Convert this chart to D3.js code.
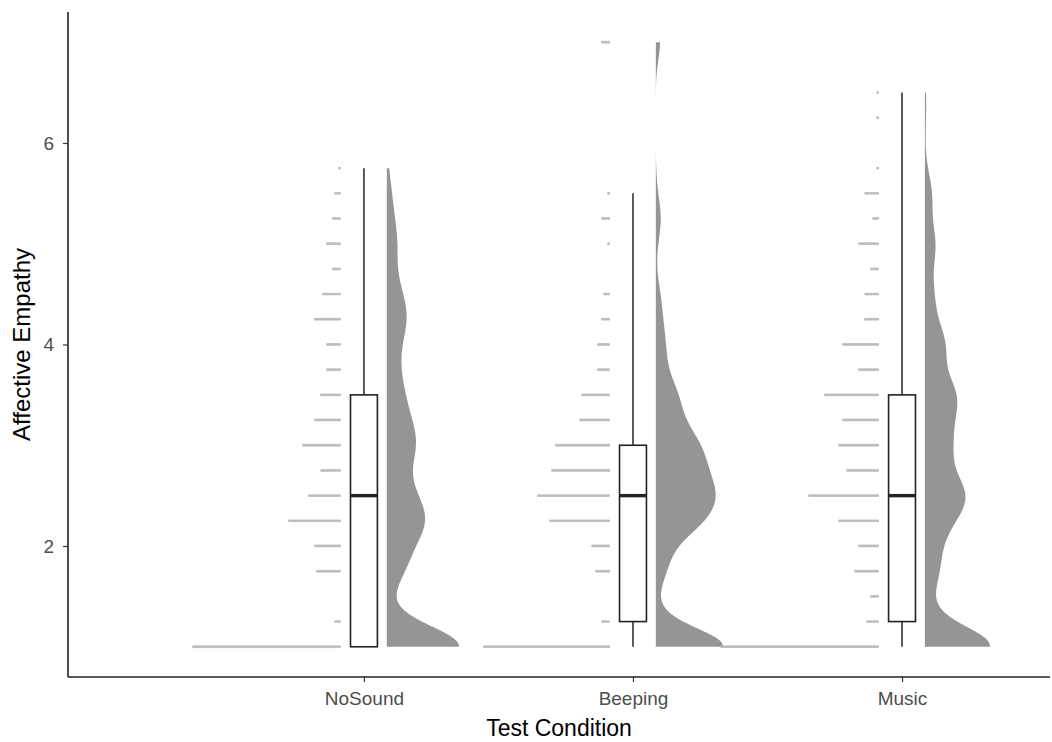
<!DOCTYPE html>
<html>
<head>
<meta charset="utf-8">
<script src="https://cdn.jsdelivr.net/npm/d3@7"></script>
<style>
  html, body { margin: 0; padding: 0; background: #ffffff; }
  svg { display: block; }
</style>
</head>
<body>
<svg id="chart" width="1052" height="742"></svg>
<script>
// ---------------- data ----------------
const categories = ["NoSound", "Beeping", "Music"];
const scoreLevels = [1.00, 1.25, 1.50, 1.75, 2.00, 2.25, 2.50, 2.75, 3.00, 3.25, 3.50, 3.75, 4.00,
                     4.25, 4.50, 4.75, 5.00, 5.25, 5.50, 5.75, 6.00, 6.25, 6.50, 6.75, 7.00];
// number of participants at each score level (aligned with scoreLevels)
const noSoundCounts = [74, 3, 0, 12, 13, 26, 16, 10, 19, 13, 10, 7, 7, 13, 9, 4, 7, 4, 3, 1, 0, 0, 0, 0, 0];
const beepingCounts = [63, 4, 0, 7, 9, 30, 36, 29, 27, 15, 14, 6, 6, 4, 3, 0, 1, 4, 1, 0, 0, 0, 0, 0, 4];
const musicCounts   = [79, 6, 4, 12, 10, 20, 35, 16, 20, 18, 27, 10, 18, 7, 7, 4, 10, 3, 7, 1, 0, 1, 1, 0, 0];
// box plot summaries
const boxLower  = [1.00, 1.00, 1.00];
const boxQ1     = [1.00, 1.25, 1.25];
const boxMedian = [2.50, 2.50, 2.50];
const boxQ3     = [3.50, 3.00, 3.50];
const boxUpper  = [5.75, 5.50, 6.50];
const yTicks = [2, 4, 6];
const xTitle = "Test Condition";
const yTitle = "Affective Empathy";

// ---------------- layout ----------------
const W = 1052, H = 742;
const plotLeft = 68, plotRight = 1050, plotTop = 12, plotBottom = 677;
const dotDiameter = 2;          // px (stack spacing)
const dotNudge = -0.087;        // x units
const violinNudge = 0.085;      // x units
const violinMaxWidth = 0.268;   // x units
const boxWidth = 0.1;           // x units
const bwAdjust = 0.5;

const countsByGroup = [noSoundCounts, beepingCounts, musicCounts];

const svg = d3.select("#chart");

const x = d3.scaleLinear().domain([-0.1, 3.55]).range([plotLeft, plotRight]);
const y = d3.scaleLinear().domain([0.7, 7.3]).range([plotBottom, plotTop]);
const catPos = d3.scalePoint().domain(categories).range([x(1), x(3)]);

// ---------------- density (per group, trimmed, area scaled) ----------------
function groupDensity(counts) {
  const vals = [];
  counts.forEach((c, i) => { for (let k = 0; k < c; k++) vals.push(scoreLevels[i]); });
  vals.sort(d3.ascending);
  const n = vals.length;
  const sd = d3.deviation(vals);
  const iqr = d3.quantileSorted(vals, 0.75) - d3.quantileSorted(vals, 0.25);
  const bw = bwAdjust * 0.9 * Math.min(sd, iqr / 1.34) * Math.pow(n, -0.2);
  const lo = d3.min(vals), hi = d3.max(vals);
  const pts = [];
  const N = 512;
  for (let j = 0; j < N; j++) {
    const v = lo + (hi - lo) * j / (N - 1);
    let s = 0;
    counts.forEach((c, i) => {
      if (!c) return;
      const z = (v - scoreLevels[i]) / bw;
      s += c * Math.exp(-0.5 * z * z);
    });
    pts.push([v, s / (n * bw * Math.sqrt(2 * Math.PI))]);
  }
  return pts;
}
const densities = countsByGroup.map(groupDensity);
const globalMax = d3.max(densities, d => d3.max(d, p => p[1]));

const g = svg.append("g");

// ---------------- violins ----------------
densities.forEach((pts, gi) => {
  const cx = 1 + gi + violinNudge;
  const area = d3.area()
    .y(p => y(p[0]))
    .x0(() => x(cx))
    .x1(p => x(cx + p[1] / globalMax * violinMaxWidth))
    .curve(d3.curveLinear);
  g.append("path")
    .datum(pts)
    .attr("d", area)
    .attr("fill", "#959595")
    .attr("stroke", "none");
});

// ---------------- dot stacks ----------------
countsByGroup.forEach((counts, gi) => {
  const right = x(1 + gi + dotNudge);
  counts.forEach((c, li) => {
    for (let k = 0; k < c; k++) {
      g.append("circle")
        .attr("cx", right - (k + 0.5) * dotDiameter)
        .attr("cy", y(scoreLevels[li]))
        .attr("r", 1.45)
        .attr("fill", "#bcbcbc");
    }
  });
});

// ---------------- box plots ----------------
categories.forEach((cat, gi) => {
  const cx = catPos(cat);
  const half = (x(boxWidth) - x(0)) / 2;
  g.append("line")
    .attr("x1", cx).attr("x2", cx)
    .attr("y1", y(boxQ3[gi])).attr("y2", y(boxUpper[gi]))
    .attr("stroke", "#333").attr("stroke-width", 1.6);
  g.append("line")
    .attr("x1", cx).attr("x2", cx)
    .attr("y1", y(boxQ1[gi])).attr("y2", y(boxLower[gi]))
    .attr("stroke", "#333").attr("stroke-width", 1.6);
  g.append("rect")
    .attr("x", cx - half).attr("width", 2 * half)
    .attr("y", y(boxQ3[gi])).attr("height", y(boxQ1[gi]) - y(boxQ3[gi]))
    .attr("fill", "#ffffff").attr("stroke", "#222").attr("stroke-width", 1.6);
  g.append("line")
    .attr("x1", cx - half).attr("x2", cx + half)
    .attr("y1", y(boxMedian[gi])).attr("y2", y(boxMedian[gi]))
    .attr("stroke", "#222").attr("stroke-width", 3.4);
});

// ---------------- axes ----------------
const font = "'Liberation Sans', Arial, Helvetica, sans-serif";
const yAxis = d3.axisLeft(y).tickValues(yTicks).tickSize(5).tickPadding(9).tickFormat(d3.format("d"));
const yG = svg.append("g").attr("transform", `translate(${plotLeft},0)`).call(yAxis);
yG.select(".domain").attr("d", `M0,${plotTop}V${plotBottom}`).attr("stroke", "#222").attr("stroke-width", 1.6);

const xAxis = d3.axisBottom(catPos).tickSize(5).tickPadding(10);
const xG = svg.append("g").attr("transform", `translate(0,${plotBottom})`).call(xAxis);
xG.select(".domain").attr("d", `M${plotLeft},0H${plotRight}`).attr("stroke", "#222").attr("stroke-width", 1.6);

[yG, xG].forEach(a => {
  a.selectAll(".tick line").attr("stroke", "#333").attr("stroke-width", 1.2);
  a.selectAll(".tick text").attr("fill", "#4d4d4d").style("font-family", font).style("font-size", "19px");
});

svg.append("text")
  .attr("x", (plotLeft + plotRight) / 2).attr("y", 736)
  .attr("text-anchor", "middle")
  .style("font-family", font).style("font-size", "23px").attr("fill", "#000")
  .text(xTitle);

svg.append("text")
  .attr("transform", `translate(30,${(plotTop + plotBottom) / 2}) rotate(-90)`)
  .attr("text-anchor", "middle")
  .style("font-family", font).style("font-size", "24px").attr("fill", "#000")
  .text(yTitle);
</script>
</body>
</html>
